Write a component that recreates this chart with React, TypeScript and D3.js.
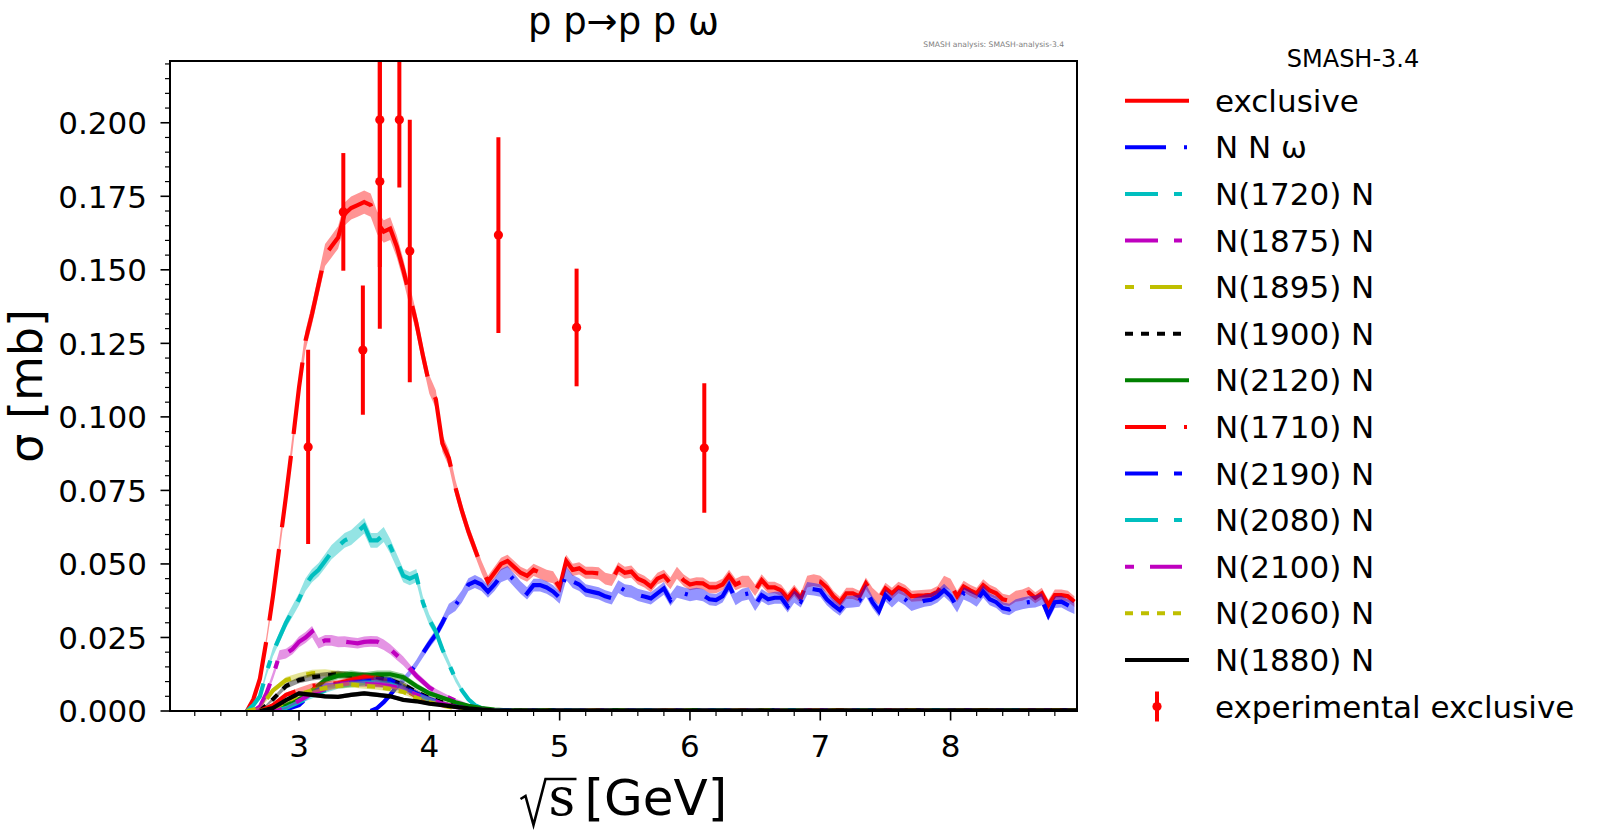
import React, {Component} from 'react';
import * as d3 from "d3";

// sqrt(s) grid of the exclusive / N N omega output [GeV]
const exclusiveEnergy = [2.01,
  2.60, 2.65, 2.70, 2.75, 2.80, 2.85, 2.90, 2.95, 3.00, 3.05,
  3.10, 3.15, 3.20, 3.25, 3.30, 3.35, 3.40, 3.45, 3.50, 3.55,
  3.60, 3.65, 3.70, 3.75, 3.80, 3.85, 3.90, 3.95, 4.00, 4.05,
  4.10, 4.15, 4.20, 4.25, 4.30, 4.35, 4.40, 4.45, 4.50, 4.55,
  4.60, 4.65, 4.70, 4.75, 4.80, 4.85, 4.90, 4.95, 5.00, 5.05,
  5.10, 5.15, 5.20, 5.25, 5.30, 5.35, 5.40, 5.45, 5.50, 5.55,
  5.60, 5.65, 5.70, 5.75, 5.80, 5.85, 5.90, 5.95, 6.00, 6.05,
  6.10, 6.15, 6.20, 6.25, 6.30, 6.35, 6.40, 6.45, 6.50, 6.55,
  6.60, 6.65, 6.70, 6.75, 6.80, 6.85, 6.90, 6.95, 7.00, 7.05,
  7.10, 7.15, 7.20, 7.25, 7.30, 7.35, 7.40, 7.45, 7.50, 7.55,
  7.60, 7.65, 7.70, 7.75, 7.80, 7.85, 7.90, 7.95, 8.00, 8.05,
  8.10, 8.15, 8.20, 8.25, 8.30, 8.35, 8.40, 8.45, 8.50, 8.55,
  8.60, 8.65, 8.70, 8.75, 8.80, 8.85, 8.90, 8.95]

const exclusiveXs = [0,
  0.000, 0.004, 0.011, 0.024, 0.039, 0.056, 0.073, 0.091, 0.110, 0.126,
  0.135, 0.145, 0.155, 0.158, 0.161, 0.169, 0.171, 0.172, 0.173, 0.172,
  0.166, 0.163, 0.164, 0.158, 0.150, 0.141, 0.132, 0.121, 0.111, 0.106,
  0.091, 0.086, 0.076, 0.068, 0.061, 0.055, 0.049, 0.044, 0.047, 0.050,
  0.051, 0.049, 0.047, 0.046, 0.048, 0.047, 0.046, 0.0455, 0.042, 0.051,
  0.048, 0.0485, 0.047, 0.047, 0.0468, 0.045, 0.0445, 0.0485, 0.047, 0.0474,
  0.045, 0.044, 0.0423, 0.045, 0.046, 0.0434, 0.047, 0.0445, 0.043, 0.0435,
  0.0434, 0.042, 0.042, 0.043, 0.046, 0.043, 0.044, 0.044, 0.041, 0.0445,
  0.042, 0.042, 0.041, 0.0383, 0.041, 0.0383, 0.044, 0.0445, 0.044, 0.042,
  0.039, 0.037, 0.040, 0.040, 0.039, 0.0434, 0.040, 0.038, 0.0417, 0.040,
  0.042, 0.041, 0.039, 0.0392, 0.0393, 0.0395, 0.0406, 0.044, 0.043, 0.039,
  0.0423, 0.041, 0.040, 0.0428, 0.041, 0.040, 0.038, 0.0375, 0.039, 0.0394,
  0.0403, 0.0385, 0.040, 0.036, 0.0394, 0.0394, 0.039, 0.0372]

const nnOmegaXs = [0,
  0, 0, 0, 0, 0, 0, 0, 0, 0, 0,
  0, 0, 0, 0, 0, 0, 0, 0, 0, 0,
  0.001, 0.003, 0.0055, 0.0083, 0.0105, 0.013, 0.016, 0.0196, 0.023, 0.026,
  0.030, 0.0345, 0.036, 0.039, 0.043, 0.044, 0.043, 0.0406, 0.043, 0.046,
  0.047, 0.0445, 0.042, 0.040, 0.0428, 0.0428, 0.042, 0.0406, 0.0385, 0.0468,
  0.044, 0.043, 0.041, 0.0405, 0.040, 0.039, 0.0383, 0.0423, 0.041, 0.0406,
  0.0395, 0.0389, 0.0383, 0.040, 0.0417, 0.0377, 0.0406, 0.040, 0.0394, 0.0398,
  0.0394, 0.038, 0.0377, 0.039, 0.0428, 0.038, 0.0395, 0.040, 0.036, 0.0394,
  0.038, 0.0385, 0.0385, 0.0355, 0.0389, 0.0372, 0.0417, 0.0414, 0.041, 0.038,
  0.036, 0.0343, 0.037, 0.0372, 0.0375, 0.0411, 0.037, 0.034, 0.0394, 0.0372,
  0.0394, 0.038, 0.036, 0.0368, 0.0375, 0.0378, 0.039, 0.0411, 0.039, 0.0355,
  0.040, 0.039, 0.0375, 0.0406, 0.038, 0.037, 0.035, 0.0345, 0.036, 0.0366,
  0.037, 0.0372, 0.038, 0.0326, 0.037, 0.0372, 0.036, 0.0349]

// the two big resonance channels
const resonanceFineEnergy = [2.01,
  2.60, 2.65, 2.70, 2.75, 2.80, 2.85, 2.90, 2.95, 3.00, 3.05,
  3.10, 3.15, 3.20, 3.25, 3.30, 3.35, 3.40, 3.45, 3.50, 3.55,
  3.60, 3.65, 3.70, 3.75, 3.80, 3.85, 3.90, 3.95, 4.00, 4.05,
  4.10, 4.15, 4.20, 4.25, 4.30, 4.35, 4.40, 4.45, 4.50, 4.55,
  4.60, 8.97]

const n1720Xs = [0,
  0.000, 0.002, 0.005, 0.013, 0.020, 0.025, 0.030, 0.034, 0.038, 0.043,
  0.046, 0.048, 0.051, 0.054, 0.056, 0.058, 0.059, 0.061, 0.063, 0.058,
  0.058, 0.060, 0.056, 0.051, 0.046, 0.045, 0.046, 0.037, 0.031, 0.027,
  0.021, 0.016, 0.011, 0.007, 0.004, 0.002, 0.001, 0.0005, 0.0003, 0.0002,
  0.0002, 0.0002]

const n1875Xs = [0,
  0, 0, 0.0015, 0.006, 0.012, 0.019, 0.0195, 0.021, 0.0235, 0.025,
  0.027, 0.023, 0.024, 0.024, 0.0235, 0.0236, 0.0233, 0.023, 0.0235, 0.0237,
  0.0236, 0.0225, 0.021, 0.019, 0.017, 0.0145, 0.012, 0.010, 0.008, 0.0066,
  0.0055, 0.0045, 0.0035, 0.0028, 0.0018, 0.0012, 0.0008, 0.0004, 0.0003, 0.0002,
  0.0001, 0.0002]

// the small resonance channels
const resonanceEnergy = [2.01, 2.6, 2.7, 2.8, 2.9, 3.0, 3.1, 3.2, 3.3, 3.4, 3.5,
  3.6, 3.7, 3.8, 3.9, 4.0, 4.1, 4.2, 4.3, 4.4, 4.5, 4.6, 8.97]

const n1895Xs = [0, 0, 0.001, 0.007, 0.0105, 0.0118, 0.0128, 0.013, 0.0125, 0.012, 0.0115,
  0.011, 0.010, 0.0085, 0.006, 0.004, 0.0025, 0.0015, 0.0008, 0.0004, 0.0002, 0.0001, 0.0002]
const n1900Xs = [0, 0, 0, 0.004, 0.0085, 0.0105, 0.0115, 0.012, 0.0125, 0.012, 0.012,
  0.0115, 0.0105, 0.009, 0.0065, 0.0045, 0.003, 0.0017, 0.001, 0.0005, 0.0002, 0.0001, 0.0002]
const n2120Xs = [0, 0, 0, 0.0005, 0.002, 0.004, 0.007, 0.0105, 0.012, 0.0125, 0.012,
  0.0125, 0.0125, 0.0115, 0.0085, 0.006, 0.0045, 0.003, 0.0018, 0.001, 0.0005, 0.0002, 0.0003]
const n1710Xs = [0, 0, 0, 0.002, 0.0055, 0.007, 0.0085, 0.009, 0.0095, 0.0105, 0.0115,
  0.011, 0.0095, 0.0075, 0.005, 0.0035, 0.002, 0.0012, 0.0006, 0.0003, 0.0001, 0, 0.0002]
const n2190Xs = [0, 0, 0, 0, 0.0005, 0.002, 0.006, 0.0085, 0.0088, 0.0095, 0.010,
  0.0105, 0.0105, 0.008, 0.006, 0.004, 0.0025, 0.0015, 0.0008, 0.0004, 0.0002, 0.0001, 0.0002]
const n2080Xs = [0, 0, 0, 0, 0.001, 0.003, 0.005, 0.007, 0.0085, 0.009, 0.0095,
  0.0095, 0.009, 0.0075, 0.0055, 0.0038, 0.0022, 0.0012, 0.0006, 0.0003, 0.0001, 0, 0.0002]
const n2100Xs = [0, 0, 0, 0, 0.001, 0.0035, 0.006, 0.0075, 0.009, 0.0095, 0.0092,
  0.009, 0.0085, 0.0075, 0.0055, 0.004, 0.0025, 0.0014, 0.0008, 0.0004, 0.0002, 0, 0.0002]
const n2060Xs = [0, 0, 0, 0.001, 0.003, 0.0055, 0.007, 0.0078, 0.0085, 0.009, 0.0085,
  0.0082, 0.0075, 0.0065, 0.0045, 0.003, 0.0018, 0.001, 0.0005, 0.0003, 0.0001, 0, 0.0002]
const n1880Xs = [0, 0, 0, 0.001, 0.0037, 0.006, 0.0055, 0.005, 0.0048, 0.0055, 0.006,
  0.0055, 0.005, 0.0038, 0.0033, 0.0025, 0.002, 0.0014, 0.0009, 0.0005, 0.0002, 0.0001, 0.0002]

// experimental exclusive cross section
const expEnergy = [3.07, 3.34, 3.49, 3.62, 3.62, 3.77, 3.85, 4.53, 5.13, 6.11]
const expXs = [0.0898, 0.1697, 0.1227, 0.180, 0.201, 0.201, 0.1564, 0.1618, 0.1304, 0.0894]
const expErr = [0.033, 0.020, 0.022, 0.050, 0.050, 0.023, 0.0446, 0.0333, 0.020, 0.022]

const channelLabels = ["exclusive", "N N ω", "N(1720) N", "N(1875) N", "N(1895) N", "N(1900) N",
  "N(2120) N", "N(1710) N", "N(2190) N", "N(2080) N", "N(2100) N", "N(2060) N", "N(1880) N"]
const channelEnergy = [exclusiveEnergy, exclusiveEnergy, resonanceFineEnergy, resonanceFineEnergy,
  resonanceEnergy, resonanceEnergy, resonanceEnergy, resonanceEnergy, resonanceEnergy,
  resonanceEnergy, resonanceEnergy, resonanceEnergy, resonanceEnergy]
const channelXs = [exclusiveXs, nnOmegaXs, n1720Xs, n1875Xs, n1895Xs, n1900Xs, n2120Xs,
  n1710Xs, n2190Xs, n2080Xs, n2100Xs, n2060Xs, n1880Xs]
// statistical error ~ k * sqrt(sigma)
const channelErrK = [0.0095, 0.0105, 0.0105, 0.0118, 0.0105, 0.0105, 0.011, 0.0105, 0.0105, 0.0105, 0.0105, 0.0105, 0.0105]

const channelColors = ["#ff0000", "#0000ff", "#00bfbf", "#bf00bf", "#bfbf00", "#000000", "#008000",
  "#ff0000", "#0000ff", "#00bfbf", "#bf00bf", "#bfbf00", "#000000"]
const channelDashes = ["72,22", "41,18,3,18", "33,16,8,16", "33,16,8,16", "9,16,32,16", "8,8", "none",
  "41,18,3,18", "33,16,8,16", "33,16,8,16", "9,16,32,16", "8,8", "none"]

const FONT = "DejaVu Sans, Liberation Sans, sans-serif"

class CrossSectionView extends Component<{}, {}> {
  private container = React.createRef<HTMLDivElement>()
  private padding = {width: 1600, height: 836, left: 170, right: 1077, top: 61, bottom: 711}

  componentDidMount() {
    this.renderChart()
  }

  renderChart() {
    const node = this.container.current
    if (!node) return
    const {padding} = this
    d3.select(node).selectAll("*").remove()

    const x = d3.scaleLinear().domain([2.01, 8.97]).range([padding.left, padding.right])
    const y = d3.scaleLinear().domain([0, 0.221]).range([padding.bottom, padding.top])

    const svg = d3.select(node).append("svg")
      .attr("width", padding.width)
      .attr("height", padding.height)
      .attr("viewBox", [0, 0, padding.width, padding.height].join(" "))
      .style("display", "block")
      .style("background", "#ffffff")

    svg.append("defs").append("clipPath").attr("id", "plotClip")
      .append("rect")
      .attr("x", padding.left).attr("y", padding.top)
      .attr("width", padding.right - padding.left).attr("height", padding.bottom - padding.top)

    const plot = svg.append("g").attr("clip-path", "url(#plotClip)")

    type Pt = {e: number, v: number, err: number}
    const line = d3.line<Pt>().x(d => x(d.e)).y(d => y(d.v))
    const band = d3.area<Pt>().x(d => x(d.e))
      .y0(d => y(Math.max(0, d.v - d.err))).y1(d => y(d.v + d.err))

    channelLabels.forEach((label, i) => {
      const pts: Pt[] = channelEnergy[i].map((e, j) => ({
        e, v: channelXs[i][j], err: channelErrK[i] * Math.sqrt(channelXs[i][j])
      }))
      // the dash pattern starts where the channel opens (leading zeros lie on the axis)
      const first = Math.max(0, pts.findIndex(p => p.v > 0) - 1)
      const open = pts.slice(first)
      plot.append("path")
        .attr("class", "band")
        .attr("d", band(pts))
        .attr("fill", channelColors[i])
        .attr("fill-opacity", 0.42)
        .attr("stroke", "none")
      plot.append("path")
        .attr("class", "channel")
        .attr("d", line(open))
        .attr("fill", "none")
        .attr("stroke", channelColors[i])
        .attr("stroke-width", 4.2)
        .attr("stroke-dasharray", channelDashes[i])
    })

    // experimental points
    const exp = plot.append("g").attr("class", "experiment")
    expEnergy.forEach((e, i) => {
      exp.append("line")
        .attr("x1", x(e)).attr("x2", x(e))
        .attr("y1", y(expXs[i] - expErr[i])).attr("y2", y(expXs[i] + expErr[i]))
        .attr("stroke", "#ff0000").attr("stroke-width", 4)
      exp.append("circle")
        .attr("cx", x(e)).attr("cy", y(expXs[i])).attr("r", 4.6)
        .attr("fill", "#ff0000")
    })

    // axes
    const axes = svg.append("g").attr("class", "axes")
    axes.append("rect")
      .attr("x", padding.left).attr("y", padding.top)
      .attr("width", padding.right - padding.left).attr("height", padding.bottom - padding.top)
      .attr("fill", "none").attr("stroke", "#000").attr("stroke-width", 2)

    const xMajor = x.ticks(7)
    const xMinor = x.ticks(35).filter(t => !xMajor.some(m => Math.abs(m - t) < 1e-6))
    xMinor.forEach(t => {
      axes.append("line").attr("x1", x(t)).attr("x2", x(t))
        .attr("y1", padding.bottom).attr("y2", padding.bottom + 5)
        .attr("stroke", "#000").attr("stroke-width", 1.2)
    })
    xMajor.forEach(t => {
      axes.append("line").attr("x1", x(t)).attr("x2", x(t))
        .attr("y1", padding.bottom).attr("y2", padding.bottom + 9.5)
        .attr("stroke", "#000").attr("stroke-width", 1.6)
      axes.append("text").attr("x", x(t)).attr("y", 757)
        .attr("text-anchor", "middle").attr("font-family", FONT).attr("font-size", 31)
        .text(d3.format("d")(t))
    })

    const yMajor = d3.range(0, 0.2001, 0.025)
    const yMinor = d3.range(0.005, 0.2211, 0.005).filter(t => !yMajor.some(m => Math.abs(m - t) < 1e-6))
    yMinor.forEach(t => {
      axes.append("line").attr("x1", padding.left - 5).attr("x2", padding.left)
        .attr("y1", y(t)).attr("y2", y(t))
        .attr("stroke", "#000").attr("stroke-width", 1.2)
    })
    yMajor.forEach(t => {
      axes.append("line").attr("x1", padding.left - 9.5).attr("x2", padding.left)
        .attr("y1", y(t)).attr("y2", y(t))
        .attr("stroke", "#000").attr("stroke-width", 1.6)
      axes.append("text").attr("x", 147).attr("y", y(t) + 11.3)
        .attr("text-anchor", "end").attr("font-family", FONT).attr("font-size", 31)
        .text(d3.format(".3f")(t))
    })

    // axis labels and title
    const cx = (padding.left + padding.right) / 2
    svg.append("text").attr("x", cx).attr("y", 34)
      .attr("text-anchor", "middle").attr("font-family", FONT).attr("font-size", 37)
      .text("p p→p p ω")
    svg.append("text").attr("x", 1064).attr("y", 47)
      .attr("text-anchor", "end").attr("font-family", FONT).attr("font-size", 7.6)
      .attr("fill", "#808080")
      .text("SMASH analysis: SMASH-analysis-3.4")

    svg.append("text")
      .attr("transform", `translate(42,${(padding.top + padding.bottom) / 2}) rotate(-90)`)
      .attr("text-anchor", "middle").attr("font-family", FONT).attr("font-size", 46)
      .text("σ [mb]")

    const xl = svg.append("g").attr("class", "xlabel")
    const base = 815
    const r0 = cx - 103
    xl.append("path")
      .attr("d", `M${r0},${base - 16} L${r0 + 5},${base - 19} L${r0 + 13},${base + 10} L${r0 + 25},${base - 36} L${r0 + 56},${base - 36}`)
      .attr("fill", "none").attr("stroke", "#000").attr("stroke-width", 2.6)
      .attr("stroke-linejoin", "miter")
    xl.append("text").attr("x", r0 + 28).attr("y", base)
      .attr("font-family", "DejaVu Serif, serif").attr("font-size", 52)
      .text("s")
    xl.append("text").attr("x", cx - 39).attr("y", base)
      .attr("font-family", FONT).attr("font-size", 50)
      .text("[GeV]")

    // legend
    const legend = svg.append("g").attr("class", "legend")
    legend.append("text").attr("x", 1353).attr("y", 67)
      .attr("text-anchor", "middle").attr("font-family", FONT).attr("font-size", 24)
      .text("SMASH-3.4")
    const rowY = (i: number) => 100.7 + 46.6 * i
    channelLabels.forEach((label, i) => {
      legend.append("line")
        .attr("x1", 1125).attr("x2", 1189).attr("y1", rowY(i)).attr("y2", rowY(i))
        .attr("stroke", channelColors[i]).attr("stroke-width", 4)
        .attr("stroke-dasharray", channelDashes[i])
      legend.append("text").attr("x", 1215).attr("y", rowY(i) + 11)
        .attr("font-family", FONT).attr("font-size", 31)
        .text(label)
    })
    const ey = rowY(channelLabels.length)
    legend.append("line")
      .attr("x1", 1157).attr("x2", 1157).attr("y1", ey - 15).attr("y2", ey + 15)
      .attr("stroke", "#ff0000").attr("stroke-width", 4)
    legend.append("circle").attr("cx", 1157).attr("cy", ey).attr("r", 4.6).attr("fill", "#ff0000")
    legend.append("text").attr("x", 1215).attr("y", ey + 11)
      .attr("font-family", FONT).attr("font-size", 31)
      .text("experimental exclusive")
  }

  public render(): JSX.Element {
    return (
      <div
        ref={this.container}
        id="CrossSectionView"
        style={{position: "absolute", left: 0, top: 0, width: 1600, height: 836, background: "#fff"}}
      />
    )
  }
}

export default function App() {
  return <CrossSectionView />
}
